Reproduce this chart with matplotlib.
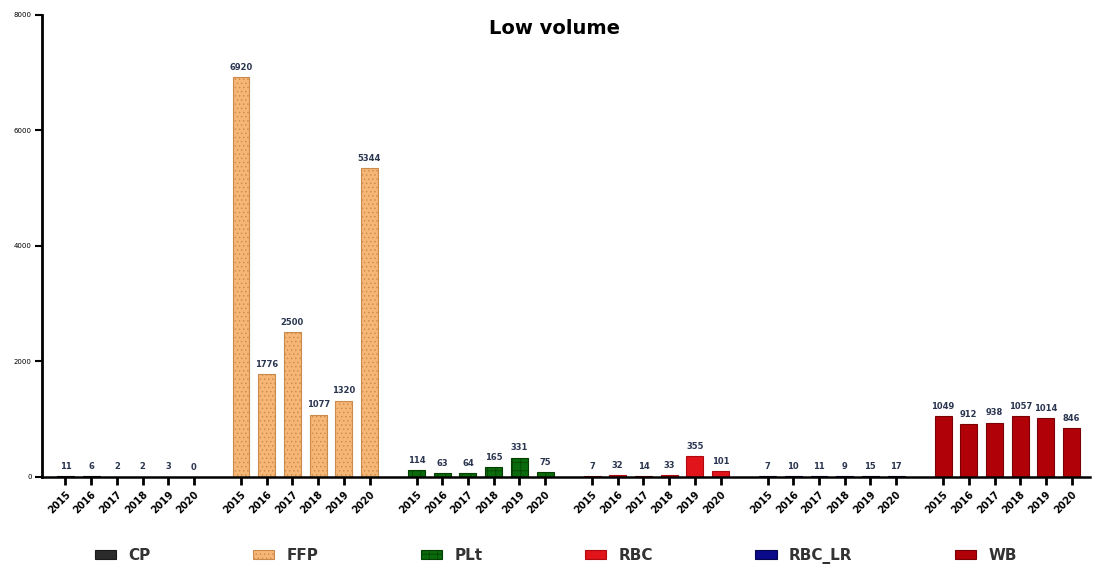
import numpy as np
import matplotlib.pyplot as plt

years = ['2015', '2016', '2017', '2018', '2019', '2020']
products = ['CP', 'FFP', 'PLt', 'RBC', 'RBC_LR', 'WB']
cp = [11, 6, 2, 2, 3, 0]
ffp = [6920, 1776, 2500, 1077, 1320, 5344]
plt_ = [114, 63, 64, 165, 331, 75]
rbc = [7, 32, 14, 33, 355, 101]
rbc_lr = [7, 10, 11, 9, 15, 17]
wb = [1049, 912, 938, 1057, 1014, 846]
series = [cp, ffp, plt_, rbc, rbc_lr, wb]

faces = ['#2b2b2b', '#f6b675', '#0b6a0b', '#e0141a', '#0a0a8a', '#b00008']
edges = ['#1a1a1a', '#c98a4b', '#033f03', '#b00a10', '#050550', '#7a0005']
hatches = [None, '....', '++', None, None, None]

plt.rcParams['hatch.linewidth'] = 0.5
fig = plt.figure(figsize=(10.94, 5.71), dpi=100)
ax = fig.add_axes([0.038, 0.165, 0.958, 0.809])

stride = 6.83
w = 0.66
xt = []; xl = []
for g, (name, vals) in enumerate(zip(products, series)):
    xs = g * stride + np.arange(len(years))
    ax.bar(xs, vals, width=w, color=faces[g], edgecolor=edges[g], linewidth=0.8,
           hatch=hatches[g], label=name, zorder=2)
    for x, v in zip(xs, vals):
        ax.text(x, v + 90, str(v), ha='center', va='bottom', fontsize=6,
                fontweight='bold', color='#2a3550')
    xt += list(xs); xl += years

ax.set_xticks(xt)
ax.set_xticklabels(xl, rotation=45, ha='right', rotation_mode='anchor',
                   fontsize=7, fontweight='bold')
ax.set_xlim(-0.93, 5 * stride + 5.7)
ax.set_ylim(0, 8000)
ax.set_yticks([0, 2000, 4000, 6000, 8000])
ax.tick_params(axis='y', labelsize=5, width=1.5, length=5, pad=2)
ax.tick_params(axis='x', width=2, length=6, pad=3)
for s in ['top', 'right']:
    ax.spines[s].set_visible(False)
ax.spines['left'].set_linewidth(2)
ax.spines['bottom'].set_linewidth(1.8)

fig.text(0.507, 1 - 28 / 571, 'Low volume', ha='center', va='center',
         fontsize=14, fontweight='bold')
leg = fig.legend(loc='center', bbox_to_anchor=(0.508, 1 - 556 / 571), ncol=6, frameon=False,
                 fontsize=11, columnspacing=6.7, handlelength=1.4, handleheight=0.6,
                 handletextpad=0.8, labelcolor='#333333')
for t in leg.get_texts():
    t.set_fontweight('bold')

fig.savefig('out.png', dpi=100)
